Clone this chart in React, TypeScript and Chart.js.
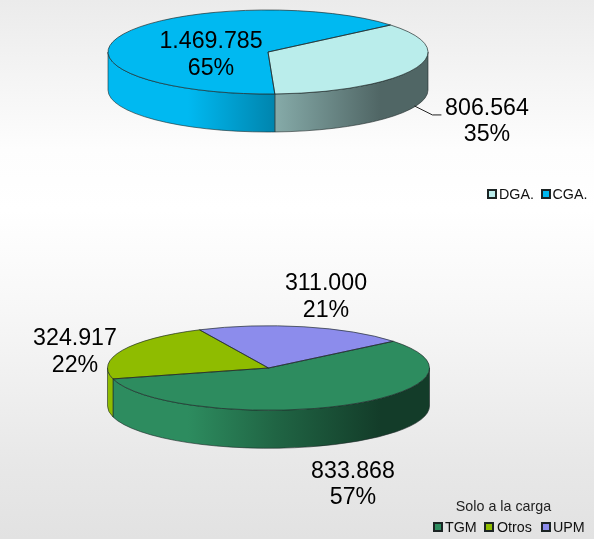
import React, { useEffect, useRef } from "react";
import { Chart, registerables } from "chart.js";

Chart.register(...registerables);

const topLabels = ["DGA.", "CGA."];
const topValues = [806564, 1469785];
const topColors = ["#BAEDEB", "#00B9F1"];

const bottomLabels = ["TGM", "Otros", "UPM"];
const bottomValues = [833868, 324917, 311000];
const bottomColors = ["#2D8C5F", "#8FBC00", "#8C8CEC"];

const FONT = '"Liberation Sans", Arial, sans-serif';
const RY_RATIO = 42 / 160;
const DEPTH = 38;

// multiplier of the base colour along the pie's width, for the lit side wall
const wallShade: [number, number][] = [
  [0, 1],
  [0.25, 1],
  [0.52, 0.72],
  [0.85, 0.43],
  [1, 0.43],
];

function shade(hex: string, f: number) {
  const n = parseInt(hex.slice(1), 16);
  const r = Math.round(((n >> 16) & 255) * f);
  const g = Math.round(((n >> 8) & 255) * f);
  const b = Math.round((n & 255) * f);
  return `rgb(${r},${g},${b})`;
}

function fmt(v: number) {
  return String(v).replace(/\B(?=(\d{3})+(?!\d))/g, ".");
}

const pie3d = {
  id: "pie3d",
  beforeDatasetsDraw(chart: any) {
    const ctx = chart.ctx;
    const ds = chart.data.datasets[0];
    chart.getDatasetMeta(0).data.forEach((arc: any, i: number) => {
      const { x, y, startAngle, endAngle, outerRadius: r } = arc.getProps(
        ["x", "y", "startAngle", "endAngle", "outerRadius"],
        true
      );
      const ry = r * RY_RATIO;
      const TAU = Math.PI * 2;
      for (const k of [-1, 0, 1]) {
        const a1 = Math.max(startAngle + k * TAU, 0);
        const a2 = Math.min(endAngle + k * TAU, Math.PI);
        if (a2 <= a1) continue;
        const g = ctx.createLinearGradient(x - r, 0, x + r, 0);
        wallShade.forEach(([t, f]) => g.addColorStop(t, shade(ds.backgroundColor[i], f)));
        ctx.beginPath();
        ctx.ellipse(x, y, r, ry, 0, a1, a2);
        ctx.ellipse(x, y + DEPTH, r, ry, 0, a2, a1, true);
        ctx.closePath();
        ctx.fillStyle = g;
        ctx.fill();
        ctx.strokeStyle = "rgba(30,40,40,0.75)";
        ctx.lineWidth = 0.8;
        ctx.stroke();
      }
    });
  },
  beforeDatasetDraw(chart: any) {
    const ctx = chart.ctx;
    const arc = chart.getDatasetMeta(0).data[0];
    ctx.save();
    ctx.translate(arc.x, arc.y);
    ctx.scale(1, RY_RATIO);
    ctx.translate(-arc.x, -arc.y);
  },
  afterDatasetDraw(chart: any) {
    chart.ctx.restore();
  },
  afterDatasetsDraw(chart: any, _a: any, opts: any) {
    const ctx = chart.ctx;
    const meta = chart.getDatasetMeta(0);
    const ds = chart.data.datasets[0];
    const total = ds.data.reduce((s: number, v: number) => s + v, 0);

    // slice outlines on the top face
    meta.data.forEach((arc: any) => {
      const { x, y, startAngle, endAngle, outerRadius: r } = arc.getProps(
        ["x", "y", "startAngle", "endAngle", "outerRadius"],
        true
      );
      ctx.beginPath();
      ctx.moveTo(x, y);
      ctx.ellipse(x, y, r, r * RY_RATIO, 0, startAngle, endAngle);
      ctx.closePath();
      ctx.strokeStyle = "rgba(30,40,40,0.75)";
      ctx.lineWidth = 0.9;
      ctx.stroke();
    });

    // value labels
    ctx.fillStyle = "#000";
    ctx.font = `23.2px ${FONT}`;
    ctx.textAlign = "center";
    ctx.textBaseline = "alphabetic";
    opts.valueLabels.forEach((p: any, i: number) => {
      ctx.fillText(fmt(ds.data[i]), p.x, p.y);
      ctx.fillText(`${Math.round((ds.data[i] / total) * 100)}%`, p.x, p.y + p.dy);
      if (p.leader) {
        const arc = meta.data[i];
        const mid = (arc.startAngle + arc.endAngle) / 2;
        const sx = arc.x + arc.outerRadius * Math.cos(mid);
        const sy = arc.y + arc.outerRadius * RY_RATIO * Math.sin(mid) + DEPTH - 1;
        ctx.beginPath();
        ctx.moveTo(sx, sy);
        ctx.lineTo(sx + p.leader[0], sy + p.leader[1]);
        ctx.lineTo(sx + p.leader[0] + p.leader[2], sy + p.leader[1]);
        ctx.strokeStyle = "#222";
        ctx.lineWidth = 1;
        ctx.stroke();
      }
    });

    // legend
    ctx.font = `14.3px ${FONT}`;
    ctx.textAlign = "left";
    chart.data.labels.forEach((lab: string, i: number) => {
      const it = opts.legend.items[i];
      ctx.fillStyle = ds.backgroundColor[i];
      ctx.strokeStyle = "#1c2424";
      ctx.lineWidth = 2;
      ctx.fillRect(it.box + 1, opts.legend.boxY + 1, 8, 8);
      ctx.strokeRect(it.box + 1, opts.legend.boxY + 1, 8, 8);
      ctx.fillStyle = "#111";
      ctx.fillText(lab, it.text, opts.legend.baseline);
    });
    if (opts.legend.title) {
      ctx.textAlign = "center";
      ctx.fillStyle = "#222";
      ctx.fillText(opts.legend.title, opts.legend.titleX, opts.legend.titleY);
    }
  },
};

function makeChart(canvas: HTMLCanvasElement, cfg: any) {
  return new Chart(canvas, {
    type: "pie",
    data: {
      labels: cfg.labels,
      datasets: [
        {
          data: cfg.values,
          backgroundColor: cfg.colors,
          borderWidth: 0,
          clip: false,
        } as any,
      ],
    },
    options: {
      animation: false,
      responsive: false,
      events: [],
      rotation: cfg.rotation,
      radius: cfg.radius,
      layout: { padding: cfg.padding },
      plugins: {
        legend: { display: false },
        tooltip: { enabled: false },
        pie3d: { valueLabels: cfg.valueLabels, legend: cfg.legend },
      },
    } as any,
    plugins: [pie3d],
  });
}

export default function App() {
  const topRef = useRef<HTMLCanvasElement>(null);
  const botRef = useRef<HTMLCanvasElement>(null);

  useEffect(() => {
    const a = makeChart(topRef.current!, {
      labels: topLabels,
      values: topValues,
      colors: topColors,
      rotation: 50,
      radius: 160,
      padding: { top: 0, left: 0, right: 58, bottom: 136 },
      valueLabels: [
        { x: 487, y: 115, dy: 26, leader: [18, 9, 9] },
        { x: 211, y: 48, dy: 27 },
      ],
      legend: {
        boxY: 189,
        baseline: 199,
        items: [
          { box: 487, text: 499 },
          { box: 541, text: 552.5 },
        ],
      },
    });
    const b = makeChart(botRef.current!, {
      labels: bottomLabels,
      values: bottomValues,
      colors: bottomColors,
      rotation: 50.8,
      radius: 161,
      padding: { top: 0, left: 0, right: 57, bottom: 43 },
      valueLabels: [
        { x: 353, y: 238, dy: 26 },
        { x: 75, y: 105, dy: 27 },
        { x: 326, y: 50, dy: 27 },
      ],
      legend: {
        boxY: 282,
        baseline: 292,
        title: "Solo a la carga",
        titleX: 503.5,
        titleY: 271,
        items: [
          { box: 433, text: 445 },
          { box: 484, text: 497 },
          { box: 541, text: 553 },
        ],
      },
    });
    return () => {
      a.destroy();
      b.destroy();
    };
  }, []);

  return (
    <div style={{ position: "absolute", left: 0, top: 0, width: 608, height: 539, background: "#fff", overflow: "hidden" }}>
      <div
        style={{
          position: "absolute",
          left: 0,
          top: 0,
          width: 594,
          height: 539,
          background: "linear-gradient(180deg,#ebebeb 0px,#fdfdfd 150px,#ffffff 210px,#f7f7f7 310px,#e8e8e8 460px,#e2e2e2 539px)",
        }}
      />
      <canvas ref={topRef} width={594} height={240} style={{ position: "absolute", left: 0, top: 0 }} />
      <canvas ref={botRef} width={594} height={299} style={{ position: "absolute", left: 0, top: 240 }} />
    </div>
  );
}
